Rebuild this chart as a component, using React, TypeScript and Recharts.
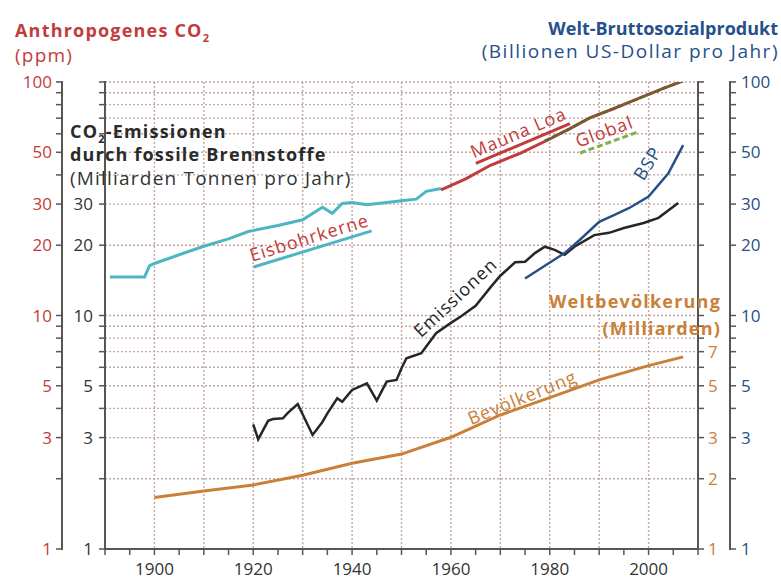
import React from "react";
import { LineChart, Line, XAxis, YAxis, CartesianGrid } from "recharts";

// ─── Werte ───────────────────────────────────────────────────────
const iceYears = [1891, 1898, 1899, 1900, 1905, 1910, 1915, 1919, 1925, 1930, 1934, 1936, 1938, 1940, 1943, 1947, 1950, 1953, 1955, 1958];
const iceValues = [14.6, 14.6, 16.3, 16.7, 18.2, 19.8, 21.3, 22.9, 24.3, 25.7, 29.1, 27.4, 30.2, 30.5, 29.8, 30.5, 31, 31.5, 34, 35];

const maunaYears = [1958, 1963, 1968, 1974, 1980, 1984, 1988, 1993, 1998, 2003, 2008];
const maunaValues = [34.5, 38.5, 44, 49.5, 57, 63, 70, 77, 85, 94, 103];

const globalYears = [1979, 1984, 1988, 1993, 1998, 2003, 2008];
const globalValues = [56, 63, 70, 77, 85, 94, 103];

const emYears = [1920, 1921, 1923, 1924, 1926, 1927, 1929, 1932, 1934, 1935, 1937, 1938, 1940, 1943, 1945, 1947, 1949, 1950, 1951, 1954, 1957, 1960, 1962, 1965, 1968, 1970, 1973, 1975, 1977, 1979, 1981, 1983, 1985, 1989, 1992, 1995, 1999, 2002, 2006];
const emValues = [3.42, 2.95, 3.54, 3.6, 3.63, 3.83, 4.18, 3.08, 3.5, 3.81, 4.42, 4.27, 4.8, 5.12, 4.32, 5.21, 5.3, 5.94, 6.56, 6.89, 8.4, 9.3, 9.9, 11.0, 13.2, 14.8, 16.9, 17.0, 18.5, 19.7, 19.1, 18.2, 19.7, 22.1, 22.6, 23.7, 24.9, 26.2, 30.3];

const gdpYears = [1975, 1983, 1986, 1990, 1993, 1996, 2000, 2004, 2007];
const gdpValues = [14.4, 18.5, 21.0, 25.2, 26.9, 28.8, 32.3, 40.6, 53.7];

const popYears = [1900, 1910, 1920, 1930, 1940, 1950, 1960, 1970, 1980, 1990, 2000, 2007];
const popValues = [1.66, 1.77, 1.88, 2.07, 2.33, 2.55, 3.01, 3.75, 4.45, 5.3, 6.1, 6.65];

const yearTicks = [1890, 1895, 1900, 1905, 1910, 1915, 1920, 1925, 1930, 1935, 1940, 1945, 1950, 1955, 1960, 1965, 1970, 1975, 1980, 1985, 1990, 1995, 2000, 2005, 2010];
const yearLabels = [1900, 1920, 1940, 1960, 1980, 2000];
const gridYears = [1900, 1910, 1920, 1930, 1940, 1950, 1960, 1970, 1980, 1990, 2000];

const logTicks = [1, 2, 3, 4, 5, 6, 7, 8, 9, 10, 20, 30, 40, 50, 60, 70, 80, 90, 100];
const co2Labels = [1, 3, 5, 10, 20, 30, 50, 100];
const emLabels = [1, 3, 5, 10, 20, 30];
const popLabels = [1, 2, 3, 5, 7];
const gdpLabels = [1, 3, 5, 10, 20, 30, 50, 100];

const pts = (xs: number[], ys: number[]) => xs.map((x, i) => ({ year: x, v: ys[i] }));

const FONT = "'Open Sans', 'Noto Sans', sans-serif";
const AXIS = "#5a5555";
const RED = "#c23b3d";
const BLUE = "#25508a";
const ORANGE = "#c98038";
const CYAN = "#4db6c2";

const only = (labels: number[]) => (v: number) => (labels.includes(v) ? String(v) : "");

const Note = ({ x, y, rot = 0, color, size = 18, line, dashed, children }: any) => (
  <div
    style={{
      position: "absolute",
      left: x,
      top: y,
      transform: `translate(-50%, -50%) rotate(${rot}deg)`,
      color,
      fontSize: size,
      fontFamily: FONT,
      letterSpacing: 1,
      whiteSpace: "nowrap",
      lineHeight: 1,
      textDecoration: line ? "underline" : "none",
      textDecorationColor: line,
      textDecorationThickness: 3,
      textDecorationStyle: dashed ? "dashed" : "solid",
      textUnderlineOffset: 4,
    }}
  >
    {children}
  </div>
);

const Text = ({ x, y, color, size = 18, weight = 400, ls = 1.2, align = "left", children }: any) => (
  <div
    style={{
      position: "absolute",
      left: align === "left" ? x : undefined,
      right: align === "right" ? 781 - x : undefined,
      top: y,
      color,
      fontSize: size,
      fontWeight: weight,
      fontFamily: FONT,
      letterSpacing: ls,
      whiteSpace: "nowrap",
      lineHeight: 1,
    }}
  >
    {children}
  </div>
);

// axis rules (Recharts leaves them out here)
const Rule = ({ left, top, width = 2, height = 2 }: any) => (
  <div style={{ position: "absolute", left, top, width, height, background: AXIS }} />
);

const axisCommon = {
  scale: "log" as const,
  type: "number" as const,
  domain: [1, 100],
  allowDataOverflow: true,
  ticks: logTicks,
  interval: 0 as const,
  tickSize: 6,
  axisLine: { stroke: AXIS, strokeWidth: 2 },
  tickLine: { stroke: AXIS, strokeWidth: 1.5 },
};

export default function App() {
  const tickFont = { fontSize: 17, fontFamily: FONT };
  return (
    <div style={{ position: "absolute", left: 0, top: 0, width: 781, height: 579, background: "#fff" }}>
      <LineChart width={781} height={579} margin={{ top: 82, right: 0, bottom: 0, left: 0 }}>
        <CartesianGrid
          yAxisId="l1"
          stroke="#c2a6a2"
          strokeDasharray="2 2"
          strokeWidth={1.4}
          verticalValues={gridYears}
          horizontalValues={logTicks}
        />
        <XAxis
          dataKey="year"
          type="number"
          domain={[1890, 2010]}
          ticks={yearTicks}
          tickFormatter={only(yearLabels)}
          allowDuplicatedCategory={false}
          height={30}
          axisLine={{ stroke: AXIS, strokeWidth: 2 }}
          tickLine={{ stroke: AXIS, strokeWidth: 1.5 }}
          tickSize={6}
          tickMargin={8}
          tick={{ ...tickFont, fill: "#333" }}
          interval={0}
        />
        <YAxis
          yAxisId="l1"
          orientation="left"
          {...axisCommon}
          tickFormatter={only(emLabels)}
          width={43}
          tickMargin={6}
          tick={{ ...tickFont, fill: "#333" }}
        />
        <YAxis
          yAxisId="l2"
          orientation="left"
          {...axisCommon}
          tickFormatter={only(co2Labels)}
          width={62}
          tickMargin={4}
          tick={{ ...tickFont, fill: RED }}
        />
        <YAxis
          yAxisId="r1"
          orientation="right"
          {...axisCommon}
          tickFormatter={only(popLabels)}
          width={32}
          tickMargin={4}
          tick={{ ...tickFont, fill: ORANGE }}
        />
        <YAxis
          yAxisId="r2"
          orientation="right"
          {...axisCommon}
          tickFormatter={only(gdpLabels)}
          width={51}
          tickMargin={5}
          tick={{ ...tickFont, fill: BLUE }}
        />
        <Line yAxisId="l1" data={pts(iceYears, iceValues)} dataKey="v" stroke={CYAN} strokeWidth={3} dot={false} isAnimationActive={false} />
        <Line yAxisId="l1" data={pts(maunaYears, maunaValues)} dataKey="v" stroke={RED} strokeWidth={3} dot={false} isAnimationActive={false} />
        <Line yAxisId="l1" data={pts(globalYears, globalValues)} dataKey="v" stroke="#566a2a" strokeWidth={2.5} strokeDasharray="6 2" dot={false} isAnimationActive={false} />
        <Line yAxisId="l1" data={pts(popYears, popValues)} dataKey="v" stroke={ORANGE} strokeWidth={3} dot={false} isAnimationActive={false} />
        <Line yAxisId="l1" data={pts(emYears, emValues)} dataKey="v" stroke="#262626" strokeWidth={2.5} dot={false} isAnimationActive={false} />
        <Line yAxisId="l1" data={pts(gdpYears, gdpValues)} dataKey="v" stroke={BLUE} strokeWidth={2.5} dot={false} isAnimationActive={false} />
      </LineChart>

      <Rule left={61} top={81} height={469} />
      <Rule left={104} top={81} height={469} />
      <Rule left={697} top={81} height={469} />
      <Rule left={729} top={81} height={469} />
      <Rule left={104} top={548} width={595} />

      <Text x={15} y={21} color={RED} weight={700}>Anthropogenes CO<sub style={{ fontSize: 11 }}>2</sub></Text>
      <Text x={15} y={46} color={RED} size={19}>(ppm)</Text>

      <Text x={778} y={19} color={BLUE} weight={700} ls={0} align="right">Welt-Bruttosozialprodukt</Text>
      <Text x={779} y={42} color={BLUE} size={19} ls={1.5} align="right">(Billionen US-Dollar pro Jahr)</Text>

      <Text x={70} y={122} color="#2a2a2a" weight={700}>CO<sub style={{ fontSize: 11 }}>2</sub>-Emissionen</Text>
      <Text x={70} y={145} color="#2a2a2a" weight={700}>durch fossile Brennstoffe</Text>
      <Text x={70} y={169} color="#333" size={19}>(Milliarden Tonnen pro Jahr)</Text>

      <Text x={721} y={292} color={ORANGE} weight={700} align="right">Weltbevölkerung</Text>
      <Text x={721} y={319} color={ORANGE} weight={700} align="right">(Milliarden)</Text>

      <Note x={518} y={132} rot={-23} color={RED} line={RED}>Mauna Loa</Note>
      <Note x={604} y={131} rot={-20} color={RED} line="#7fb24a" dashed>Global</Note>
      <Note x={309} y={237} rot={-17} color={RED} line={CYAN}>Eisbohrkerne</Note>
      <Note x={647} y={163} rot={-58} color={BLUE}>BSP</Note>
      <Note x={455} y={297} rot={-43} color="#262626">Emissionen</Note>
      <Note x={522} y={397} rot={-22} color={ORANGE}>Bevölkerung</Note>
    </div>
  );
}
